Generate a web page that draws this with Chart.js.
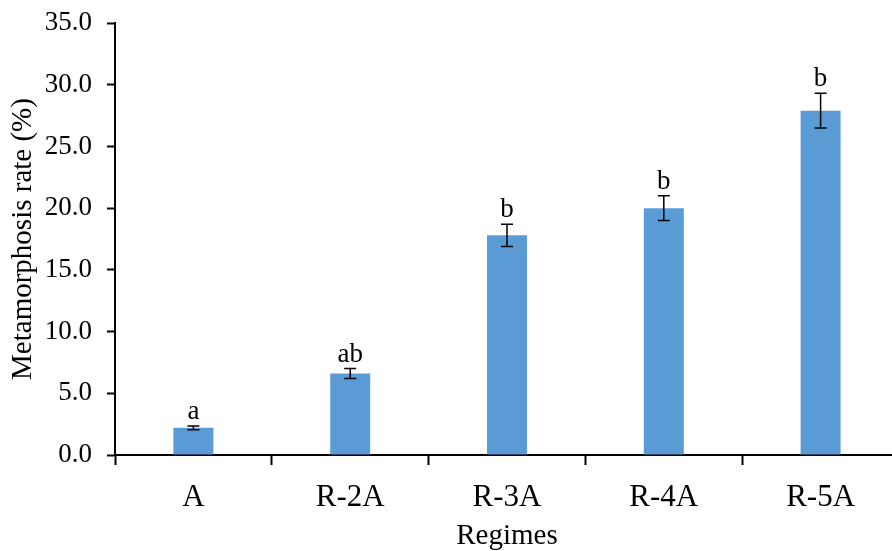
<!DOCTYPE html>
<html>
<head>
<meta charset="utf-8">
<script src="https://cdn.jsdelivr.net/npm/chart.js@4/dist/chart.umd.min.js"></script>
<style>
  html, body { margin: 0; padding: 0; background: #fff; overflow: hidden; }
  #wrap { width: 900px; height: 551px; }
</style>
</head>
<body>
<div id="wrap"><canvas id="c" width="900" height="551"></canvas></div>
<script>
// Metamorphosis rate by feeding regime (mean ± error, significance letters)
const regimes = ['A', 'R-2A', 'R-3A', 'R-4A', 'R-5A'];
const rates = [2.2, 6.6, 17.8, 20.0, 27.9];
const errors = [0.15, 0.4, 0.9, 1.0, 1.4];
const letters = ['a', 'ab', 'b', 'b', 'b'];

const SERIF = '"Liberation Serif", "Times New Roman", serif';

// Error bars with caps, plus the group letters above them
const errorBarPlugin = {
  id: 'errorBars',
  afterDatasetsDraw(chart) {
    const ctx = chart.ctx;
    const y = chart.scales.y;
    const meta = chart.getDatasetMeta(0);
    ctx.save();
    ctx.strokeStyle = '#000';
    ctx.lineWidth = 1.5;
    ctx.fillStyle = '#000';
    ctx.font = '27px ' + SERIF;
    ctx.textAlign = 'center';
    ctx.textBaseline = 'alphabetic';
    meta.data.forEach((bar, i) => {
      const x = bar.x;
      const top = y.getPixelForValue(rates[i] + errors[i]);
      const bot = y.getPixelForValue(rates[i] - errors[i]);
      const cap = 6;
      ctx.beginPath();
      ctx.moveTo(x, top); ctx.lineTo(x, bot);
      ctx.moveTo(x - cap, top); ctx.lineTo(x + cap, top);
      ctx.moveTo(x - cap, bot); ctx.lineTo(x + cap, bot);
      ctx.stroke();
      ctx.fillText(letters[i], x, top - 7);
    });
    ctx.restore();
  }
};

new Chart(document.getElementById('c'), {
  type: 'bar',
  data: {
    labels: regimes,
    datasets: [{
      data: rates,
      backgroundColor: '#5B9BD5',
      borderWidth: 0,
      categoryPercentage: 1,
      barPercentage: 0.255
    }]
  },
  options: {
    responsive: false,
    animation: false,
    events: [],
    layout: { padding: { top: 23, right: 1, left: 0, bottom: 0 } },
    plugins: {
      legend: { display: false },
      tooltip: { enabled: false }
    },
    scales: {
      x: {
        offset: true,
        grid: {
          offset: true,
          drawOnChartArea: false,
          drawTicks: true,
          tickLength: 10,
          tickColor: '#000',
          tickWidth: 2
        },
        border: { display: true, color: '#000', width: 2 },
        ticks: {
          color: '#000',
          padding: 14,
          font: { family: SERIF, size: 31 },
          maxRotation: 0
        },
        title: {
          display: true,
          text: 'Regimes',
          color: '#000',
          font: { family: SERIF, size: 29, lineHeight: 1 },
          padding: { top: 0, bottom: 0.5 }
        },
        afterFit(scale) {
          scale.height = 96;
          scale.paddingLeft = 0;
          scale.paddingRight = 0;
        }
      },
      y: {
        min: 0,
        max: 35,
        grid: {
          drawOnChartArea: false,
          drawTicks: true,
          tickLength: 8,
          tickColor: '#000',
          tickWidth: 2
        },
        border: { display: true, color: '#000', width: 2 },
        ticks: {
          stepSize: 5,
          color: '#000',
          padding: 15,
          font: { family: SERIF, size: 27 },
          callback: (v) => Number(v).toFixed(1)
        },
        title: {
          display: true,
          text: 'Metamorphosis rate (%)',
          color: '#000',
          font: { family: SERIF, size: 29, lineHeight: 1 },
          padding: { top: 8.5, bottom: 0 }
        },
        afterFit(scale) {
          scale.width = 115;
          scale.paddingTop = 0;
          scale.paddingBottom = 0;
        }
      }
    }
  },
  plugins: [errorBarPlugin]
});
</script>
</body>
</html>
